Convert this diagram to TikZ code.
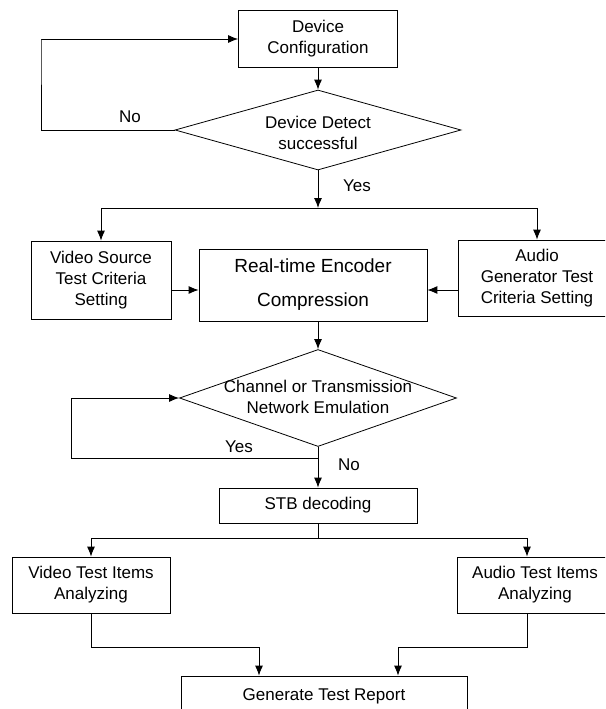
\documentclass[tikz,border=0pt]{standalone}
\usepackage{fontspec}
\setmainfont{Liberation Sans}
\usetikzlibrary{shapes.geometric,arrows.meta}

\tikzset{
  box/.style={draw, line width=0.8pt, align=center, inner sep=0pt},
  decision/.style={draw, diamond, line width=0.8pt, inner sep=0pt},
  flow/.style={line width=0.9pt, -{Latex[length=10pt,width=8pt]}},
  wire/.style={line width=0.9pt},
}

\begin{document}
\begin{tikzpicture}[x=1pt, y=-1pt, font=\fontsize{17}{21}\selectfont]
      \useasboundingbox (0,0) rectangle (605,709);
      \clip (0,0) rectangle (605,709);

      % detection loop
      \node[box, minimum width=159pt, minimum height=57pt] (config) at (318,39) {Device\\Configuration};
      \node[decision, minimum width=286pt, minimum height=80pt] (detect) at (318,130) {};
      \node[align=center] (detect-text) at (318,133) {Device Detect\\successful};
      \draw[flow] (config) -- (detect);
      \draw[flow] (detect.west) -| (41,40) |- (config.west);
      \node (no-detect) at (130,117) {No};

      % sources and encoder
      \coordinate (fork1) at (318,208);
      \node[box, minimum width=140pt, minimum height=78pt] (vsrc) at (101,280) {Video Source\\Test Criteria\\Setting};
      \node[box, minimum width=228pt, minimum height=72pt, font=\fontsize{19}{21}\selectfont] (enc) at (313,285) {Real-time Encoder\\[13pt]Compression};
      \node[box, minimum width=158pt, minimum height=76pt] (agen) at (537,278) {Audio\\Generator Test\\Criteria Setting};
      \draw[flow] (detect.south) -- (fork1);
      \node (yes-detect) at (357,186) {Yes};
      \draw[flow] (fork1) -| (vsrc.north);
      \draw[flow] (fork1) -| (agen.north);
      \draw[flow] ([yshift=-10pt]vsrc.east) -- ([yshift=-10pt]vsrc.east -| enc.west);
      \draw[flow] ([yshift=-12pt]agen.west) -- ([yshift=-12pt]agen.west -| enc.east);

      % channel emulation
      \node[decision, minimum width=277pt, minimum height=97pt] (net) at (318,398) {};
      \node[align=center] (net-text) at (318,397) {Channel or Transmission\\Network Emulation};
      \draw[flow] (enc.south -| net) -- (net.north);
      \coordinate (retry) at (71,458);
      \draw[flow] (net.south) |- (retry) |- (net.west);
      \node (yes-net) at (239,447) {Yes};

      % decoding and analysis
      \node[box, minimum width=198pt, minimum height=35pt] (stb) at (318,505.5) {STB decoding};
      \draw[flow] (net.south) -- (stb.north);
      \node (no-net) at (349,465) {No};
      \coordinate (fork2) at (318,538);
      \node[box, minimum width=158pt, minimum height=56pt] (vti) at (91,585) {Video Test Items\\Analyzing};
      \node[box, minimum width=156pt, minimum height=56pt] (ati) at (535,585) {Audio Test Items\\Analyzing};
      \draw[wire] (stb.south) -- (fork2);
      \draw[flow] (fork2) -| (vti.north);
      \draw[flow] (fork2) -| ([xshift=-8pt]ati.north);

      % report
      \node[box, minimum width=286pt, minimum height=40pt] (report) at (324,696) {Generate Test Report};
      \draw[flow] (vti.south) -- ++(0,34) -| ([xshift=-65pt]report.north);
      \draw[flow] ([xshift=-8pt]ati.south) -- ++(0,34) -| ([xshift=74pt]report.north);
\end{tikzpicture}
\end{document}
